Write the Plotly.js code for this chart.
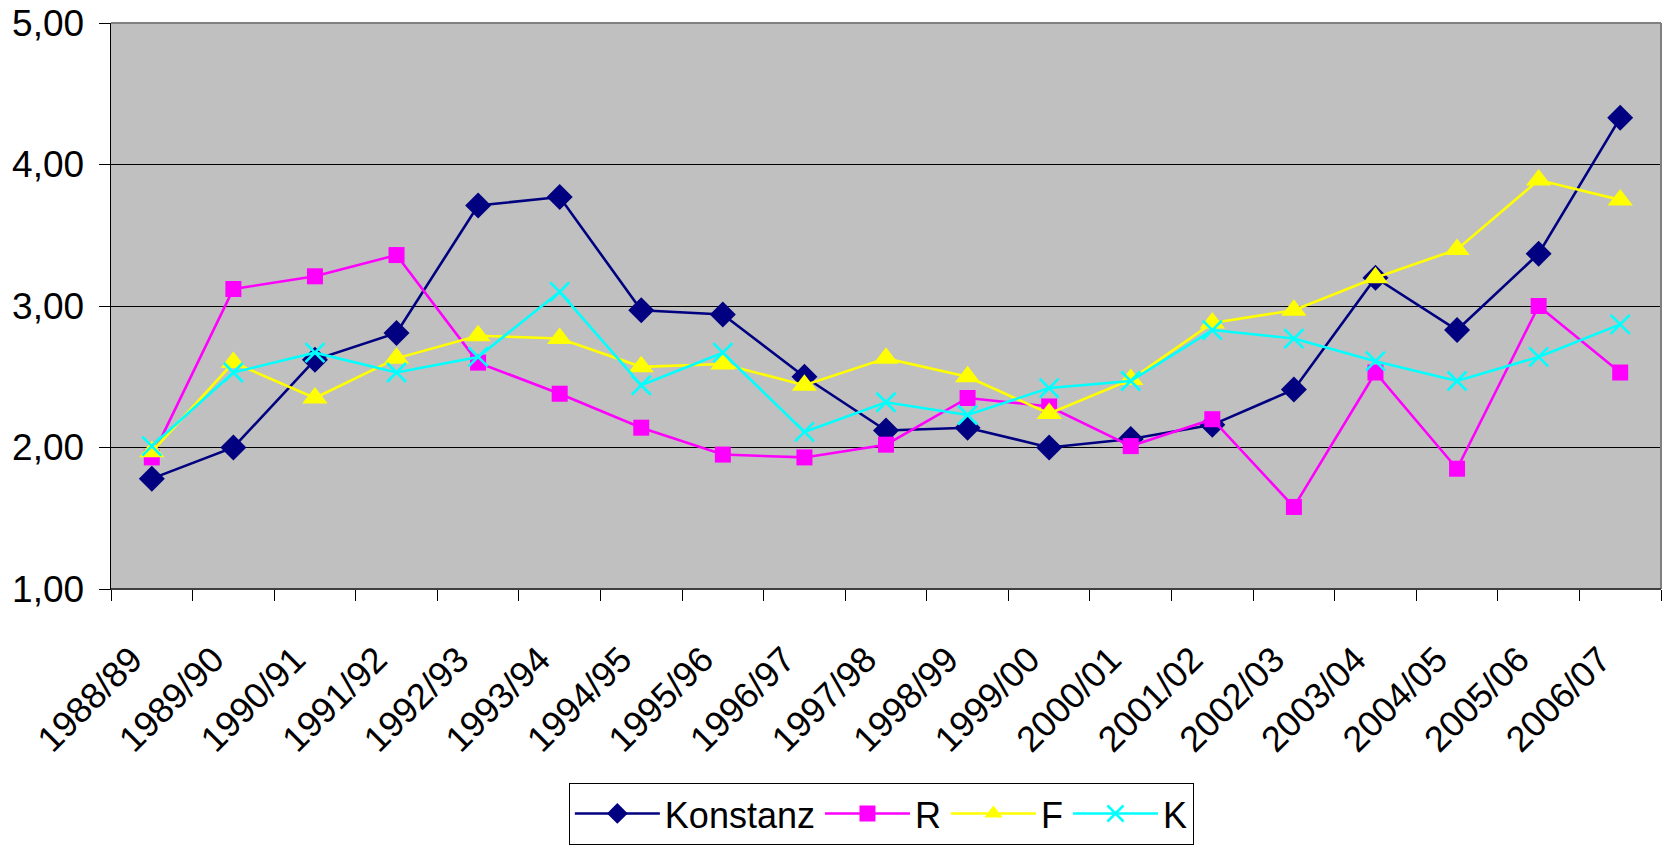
<!DOCTYPE html>
<html>
<head>
<meta charset="utf-8">
<script src="https://cdn.plot.ly/plotly-3.0.1.min.js"></script>
<style>html,body{margin:0;padding:0;background:#fff;}#chart{width:1664px;height:847px;}</style>
</head>
<body>
<div id="chart"></div>
<script>
const categories = ["1988/89","1989/90","1990/91","1991/92","1992/93","1993/94","1994/95","1995/96","1996/97","1997/98","1998/99","1999/00","2000/01","2001/02","2002/03","2003/04","2004/05","2005/06","2006/07"];
const konstanz = [1.78,2.00,2.62,2.81,3.71,3.77,2.97,2.94,2.50,2.12,2.14,2.00,2.06,2.16,2.41,3.20,2.83,3.37,4.33];
const seriesR  = [1.93,3.12,3.21,3.36,2.60,2.38,2.14,1.95,1.93,2.02,2.35,2.29,2.01,2.20,1.58,2.53,1.85,3.00,2.53];
const seriesF  = [1.97,2.60,2.35,2.63,2.79,2.77,2.57,2.59,2.44,2.63,2.50,2.24,2.48,2.88,2.97,3.20,3.40,3.89,3.75];
const seriesK  = [2.01,2.53,2.67,2.53,2.64,3.10,2.44,2.67,2.11,2.32,2.23,2.42,2.47,2.83,2.77,2.61,2.47,2.64,2.87];
const yTicks = [1,2,3,4,5];

const font = "Liberation Sans, Arial, sans-serif";
function tr(name, y, color, symbol, size) {
  return {
    type: 'scatter', mode: 'lines+markers', name: name,
    x: categories, y: y,
    line: {color: color, width: 2.6},
    marker: {symbol: symbol, size: size, color: color, line: {color: color, width: 0}}
  };
}
const traces = [
  tr('Konstanz', konstanz, '#000080', 'diamond', 20),
  tr('R', seriesR, '#FF00FF', 'square', 16),
  tr('F', seriesF, '#FFFF00', 'triangle-up', 22),
  {type:'scatter', mode:'lines+markers', name:'K', x: categories, y: seriesK,
   line:{color:'#00FFFF', width:2.6},
   marker:{symbol:'x-thin-open', size:19, color:'#00FFFF', line:{color:'#00FFFF', width:2.6}}}
];

const layout = {
  width: 1664, height: 847,
  margin: {l: 111, r: 3, t: 23, b: 256},
  paper_bgcolor: '#ffffff',
  plot_bgcolor: '#C0C0C0',
  separators: ',.',
  font: {family: font, color: '#000', size: 36},
  showlegend: true,
  legend: {
    orientation: 'h', x: 0.497, xanchor: 'center', y: -0.342, yanchor: 'top',
    bgcolor: '#fff', bordercolor: '#000', borderwidth: 1,
    font: {family: font, size: 36, color: '#000'},
    itemwidth: 85, tracegroupgap: 0
  },
  xaxis: {
    type: 'category', tickson: 'boundaries', ticks: 'outside', ticklen: 11, tickcolor: '#000', tickwidth: 1,
    tickangle: -45, tickfont: {family: font, size: 36, color: '#000'},
    ticklabelstandoff: 34, ticklabelshift: -20,
    showline: true, linecolor: '#000', linewidth: 1, showgrid: false, zeroline: false,
    range: [-0.5, categories.length - 0.5]
  },
  yaxis: {
    range: [1, 5], tickvals: yTicks, tickformat: '.2f', ticks: 'outside', ticklen: 11, tickcolor: '#000',
    tickfont: {family: font, size: 37, color: '#000'},
    ticklabelstandoff: 7,
    showline: true, linecolor: '#000', linewidth: 1.5,
    showgrid: true, gridcolor: '#000', gridwidth: 1, zeroline: false
  },
  shapes: [
    {type:'line', xref:'paper', yref:'paper', x0:0, x1:1, y0:1, y1:1, line:{color:'#808080', width:2}},
    {type:'line', xref:'paper', yref:'paper', x0:1, x1:1, y0:0, y1:1, line:{color:'#808080', width:2}},
    {type:'line', xref:'paper', yref:'paper', x0:0, x1:1, y0:0, y1:0, line:{color:'#404040', width:2}}
  ]
};
Plotly.newPlot('chart', traces, layout, {displayModeBar: false, staticPlot: true});
</script>
</body>
</html>
